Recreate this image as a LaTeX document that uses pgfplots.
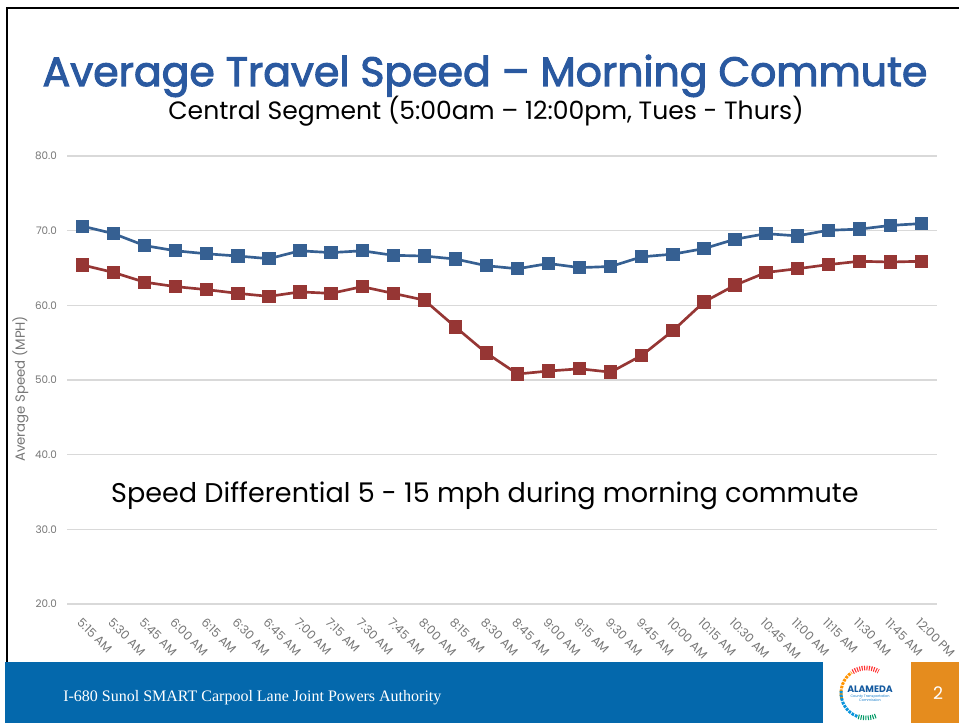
\documentclass[border=0pt]{standalone}
\usepackage{fontspec}
\setmainfont{Poppins}
\newfontfamily\titlefont[FakeBold=2.5]{Poppins}
\newfontfamily\footfont{Liberation Serif}
\usepackage{pgfplots}
\usepackage{pgfplotstable}
\pgfplotsset{compat=1.18}
\definecolor{ttl}{RGB}{42,89,160}
\definecolor{sblue}{RGB}{54,96,146}
\definecolor{sred}{RGB}{150,54,52}
\definecolor{gridc}{RGB}{217,217,217}
\definecolor{tickc}{RGB}{118,118,118}
\definecolor{footblue}{RGB}{4,104,172}
\definecolor{orng}{RGB}{229,140,30}
\definecolor{logoblue}{RGB}{20,90,160}
\pgfplotstableread{
x blue red
0 70.6 65.4
1 69.6 64.4
2 68.0 63.1
3 67.3 62.5
4 66.9 62.1
5 66.6 61.6
6 66.25 61.2
7 67.3 61.8
8 67.06 61.6
9 67.3 62.5
10 66.7 61.6
11 66.6 60.7
12 66.2 57.1
13 65.3 53.6
14 64.9 50.8
15 65.6 51.2
16 65.05 51.5
17 65.2 51.05
18 66.5 53.3
19 66.85 56.6
20 67.6 60.45
21 68.85 62.7
22 69.6 64.4
23 69.3 64.9
24 70.05 65.45
25 70.2 65.9
26 70.7 65.8
27 70.95 65.9
}\speeddata
\begin{document}
\begin{tikzpicture}
\useasboundingbox (0,0) rectangle (719.25pt,542.25pt);
\fill[white] (0,0) rectangle (719.25pt,542.25pt);
\begin{scope}[x=0.75pt,y=-0.75pt,yshift=542.25pt]
\draw[black, line width=2.2pt] (7,723) -- (7,8) -- (959,8);
\node[anchor=base, text=ttl, font=\titlefont\fontsize{30.75pt}{36pt}\selectfont] at (485,86) {Average Travel Speed – Morning Commute};
\node[anchor=base, text=black, font=\fontsize{18.8pt}{23pt}\selectfont] at (486,120) {Central Segment (5:00am – 12:00pm, Tues - Thurs)};
\end{scope}
\begin{axis}[
  at={(50.25pt,89.25pt)}, anchor=south west,
  scale only axis, width=652.5pt, height=336pt,
  xmin=-0.5, xmax=27.5, ymin=20, ymax=80,
  ytick={20,30,...,80}, xtick={0,...,27},
  xticklabels={5:15 AM,5:30 AM,5:45 AM,6:00 AM,6:15 AM,6:30 AM,6:45 AM,7:00 AM,7:15 AM,7:30 AM,7:45 AM,8:00 AM,8:15 AM,8:30 AM,8:45 AM,9:00 AM,9:15 AM,9:30 AM,9:45 AM,10:00 AM,10:15 AM,10:30 AM,10:45 AM,11:00 AM,11:15 AM,11:30 AM,11:45 AM,12:00 PM},
  ymajorgrids, grid style={gridc, line width=0.8pt},
  axis line style={draw=none}, major tick length=0pt,
  /pgf/number format/assume math mode=true,
  yticklabel={\pgfmathprintnumber[fixed, fixed zerofill, precision=1]{\tick}},
  ticklabel style={text=tickc},
  yticklabel style={font=\fontsize{7.8pt}{9pt}\selectfont, xshift=-4pt},
  x tick label style={font=\fontsize{9pt}{10pt}\selectfont, yshift=-5pt, rotate=-45, anchor=north west},
  ylabel={Average Speed (MPH)},
  ylabel style={text=tickc, font=\fontsize{10pt}{11pt}\selectfont, at={(axis description cs:-0.039,0.48)}},
  clip=false,
]
\addplot[sblue, line width=2pt, mark=square*, mark size=4pt, mark options={solid}] table[x=x, y=blue] {\speeddata};
\addplot[sred, line width=2pt, mark=square*, mark size=4pt, mark options={solid}] table[x=x, y=red] {\speeddata};
\node[anchor=base, font=\fontsize{20.3pt}{24pt}\selectfont] at (axis cs:12.95,33.66) {Speed Differential 5 - 15 mph during morning commute};
\end{axis}
\begin{scope}[x=0.75pt,y=-0.75pt,yshift=542.25pt]
\fill[footblue] (5,662) rectangle (823,723);
\fill[orng] (911,662) rectangle (959,723);
\node[anchor=base west, inner sep=0pt, text=white, font=\footfont\fontsize{12pt}{14pt}\selectfont] at (63,702) {I-680 Sunol SMART Carpool Lane Joint Powers Authority};
\node[text=white, font=\fontsize{13pt}{15pt}\selectfont] at (938,693) {2};
% logo
\draw[orange!85!yellow, line width=2.2pt, dash pattern=on 2pt off 0.8pt] ([shift={(165:25)}]866,693) arc[start angle=165, end angle=235, radius=25];
\draw[red!75!pink, line width=3.5pt, dash pattern=on 0.8pt off 1pt] ([shift={(238:25)}]866,693) arc[start angle=238, end angle=300, radius=25];
\draw[cyan!80!blue, line width=2.2pt, dash pattern=on 2pt off 0.8pt] ([shift={(185:25)}]866,693) arc[start angle=185, end angle=110, radius=25];
\draw[teal!80!green, line width=3.5pt, dash pattern=on 0.8pt off 1pt] ([shift={(108:25)}]866,693) arc[start angle=108, end angle=65, radius=25];
\node[text=logoblue, inner sep=0pt, font=\fontsize{7pt}{8pt}\selectfont\bfseries] at (870,689) {ALAMEDA};
\node[text=cyan!60!blue, inner sep=0pt, font=\fontsize{2.6pt}{3pt}\selectfont, align=center] at (870,698) {County Transportation\\Commission};
\end{scope}
\end{tikzpicture}
\end{document}
